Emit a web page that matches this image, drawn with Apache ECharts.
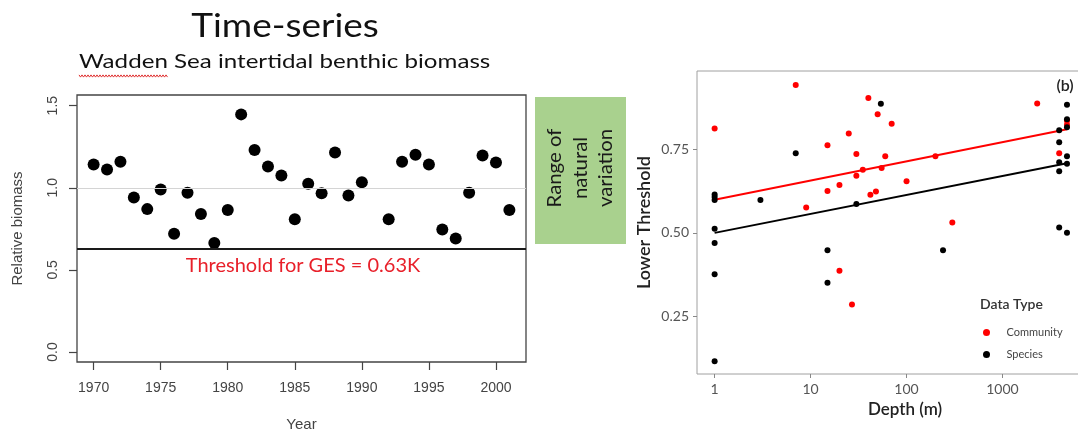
<!DOCTYPE html>
<html>
<head>
<meta charset="utf-8">
<script src="https://cdn.jsdelivr.net/npm/echarts@6/dist/echarts.min.js"></script>
<style>
html, body { margin: 0; padding: 0; background: #fff; }
#chart { width: 1078px; height: 433px; }
</style>
</head>
<body>
<div id="chart"></div>
<script>
// Wadden Sea intertidal benthic biomass, relative to K (1991 not sampled)
const years = [1970, 1971, 1972, 1973, 1974, 1975, 1976, 1977, 1978, 1979, 1980,
  1981, 1982, 1983, 1984, 1985, 1986, 1987, 1988, 1989, 1990,
  1992, 1993, 1994, 1995, 1996, 1997, 1998, 1999, 2000, 2001];
const biomass = [1.142, 1.112, 1.159, 0.941, 0.870, 0.990, 0.720, 0.970, 0.841, 0.663, 0.864,
  1.447, 1.230, 1.130, 1.075, 0.809, 1.024, 0.967, 1.215, 0.953, 1.033,
  0.809, 1.159, 1.201, 1.142, 0.746, 0.691, 0.970, 1.197, 1.154, 0.864];
const yearTicks = [1970, 1975, 1980, 1985, 1990, 1995, 2000];
const biomassTicks = [0, 0.5, 1, 1.5];
const gesThreshold = 0.63;
const referenceLevel = 1.0;

// Lower threshold against depth, by data type
const communityDepth = [1, 7, 9, 15, 15, 20, 20, 25, 27, 30, 30, 35, 40, 42, 48, 50, 55, 60, 70,
  100, 200, 300, 2300, 3900, 4700, 4700];
const communityThreshold = [0.812, 0.942, 0.576, 0.762, 0.625, 0.643, 0.387, 0.797, 0.286, 0.736, 0.671,
  0.689, 0.903, 0.614, 0.624, 0.855, 0.694, 0.729, 0.826, 0.654, 0.729, 0.531, 0.887, 0.738, 0.835, 0.823];
const speciesDepth = [1, 1, 1, 1, 1, 1, 1, 3, 7, 15, 15, 30, 54, 240,
  4700, 4700, 4700, 3900, 3900, 4700, 3900, 4700, 3900, 3900, 4700];
const speciesThreshold = [0.116, 0.376, 0.470, 0.512, 0.598, 0.607, 0.615, 0.598, 0.738, 0.448, 0.351,
  0.586, 0.886, 0.448, 0.883, 0.840, 0.816, 0.807, 0.771, 0.729, 0.711, 0.707, 0.684, 0.516, 0.500];
// fitted trend lines (end points)
const communityFitDepth = [1, 4700];
const communityFitValue = [0.599, 0.810];
const speciesFitDepth = [1, 4700];
const speciesFitValue = [0.500, 0.708];
const depthTicks = [1, 10, 100, 1000];
const thresholdTicks = [0.25, 0.5, 0.75];

const pairs = (xs, ys) => xs.map((x, i) => [x, ys[i]]);

const rFont = 'Liberation Sans';
const uiFont = 'Lato';

// red spell-check squiggle under the first word of the subtitle
const squiggle = [];
for (let x = 79, k = 0; x <= 168; x += 1.5, k++) squiggle.push([x, 76 + (k % 2 ? 1.1 : -1.1)]);

const chart = echarts.init(document.getElementById('chart'), null, { renderer: 'canvas' });
chart.setOption({
  animation: false,
  backgroundColor: '#fff',
  grid: [
    { left: 77, top: 95, width: 449, height: 267, outerBoundsMode: 'none', containLabel: false,
      show: true, borderColor: '#444', borderWidth: 1.3, backgroundColor: 'transparent' },
    { left: 697, top: 71, width: 388, height: 303, outerBoundsMode: 'none', containLabel: false,
      show: true, borderColor: '#a0a0a0', borderWidth: 1, backgroundColor: 'transparent' }
  ],
  xAxis: [
    {
      type: 'value', gridIndex: 0, min: 1968.76, max: 2002.24,
      axisLine: { show: false, onZero: false },
      splitLine: { show: false },
      axisTick: { show: true, customValues: yearTicks, length: 8, lineStyle: { color: '#444', width: 1.2 } },
      axisLabel: { customValues: yearTicks, margin: 19, fontFamily: rFont, fontSize: 14, color: '#444',
        formatter: v => String(v) },
      name: 'Year', nameLocation: 'middle', nameGap: 55,
      nameTextStyle: { fontFamily: rFont, fontSize: 15, color: '#444' }
    },
    {
      type: 'log', logBase: 10, gridIndex: 1, min: 0.655, max: 7244,
      axisLine: { show: false, onZero: false },
      splitLine: { show: false },
      axisTick: { show: true, customValues: depthTicks, length: 4, lineStyle: { color: '#888' } },
      axisLabel: { customValues: depthTicks, margin: 8, fontFamily: uiFont, fontSize: 14, color: '#555',
        formatter: v => String(Math.round(v)) }
    }
  ],
  yAxis: [
    {
      type: 'value', gridIndex: 0, min: -0.061, max: 1.565,
      axisLine: { show: false, onZero: false },
      splitLine: { show: false },
      axisTick: { show: true, customValues: biomassTicks, length: 8, lineStyle: { color: '#444', width: 1.2 } },
      axisLabel: { customValues: biomassTicks, rotate: 90, margin: 17, fontFamily: rFont, fontSize: 14, color: '#444',
        formatter: v => v.toFixed(1) },
      name: 'Relative biomass', nameLocation: 'middle', nameGap: 52,
      nameTextStyle: { fontFamily: rFont, fontSize: 15, color: '#444' }
    },
    {
      type: 'value', gridIndex: 1, min: 0.078, max: 0.984,
      axisLine: { show: false, onZero: false },
      splitLine: { show: false },
      axisTick: { show: true, customValues: thresholdTicks, length: 4, lineStyle: { color: '#888' } },
      axisLabel: { customValues: thresholdTicks, margin: 8, fontFamily: uiFont, fontSize: 14, color: '#555',
        formatter: v => v.toFixed(2) },
      name: 'Lower Threshold', nameLocation: 'middle', nameGap: 44,
      nameTextStyle: { fontFamily: uiFont, fontSize: 18, color: '#222', fontWeight: 600 }
    }
  ],
  legend: {
    data: ['Community', 'Species'],
    orient: 'vertical', left: 978, top: 322,
    icon: 'circle', itemWidth: 30, itemHeight: 7, itemGap: 11,
    selectedMode: false,
    textStyle: { fontFamily: uiFont, fontSize: 11, color: '#444' }
  },
  series: [
    {
      name: 'Reference levels', type: 'line', xAxisIndex: 0, yAxisIndex: 0, data: [], z: 1,
      markLine: {
        silent: true, symbol: 'none', label: { show: false }, animation: false,
        data: [
          { yAxis: referenceLevel, lineStyle: { color: '#d4d4d4', width: 1, type: 'solid' } },
          { yAxis: gesThreshold, lineStyle: { color: '#1a1a1a', width: 2, type: 'solid' } }
        ]
      }
    },
    {
      name: 'Relative biomass', type: 'scatter', xAxisIndex: 0, yAxisIndex: 0, z: 3,
      symbolSize: 12, itemStyle: { color: '#000', opacity: 1 },
      data: pairs(years, biomass)
    },
    {
      name: 'Community fit', type: 'line', xAxisIndex: 1, yAxisIndex: 1, z: 2,
      showSymbol: false, lineStyle: { color: '#ff0000', width: 2 },
      data: pairs(communityFitDepth, communityFitValue)
    },
    {
      name: 'Species fit', type: 'line', xAxisIndex: 1, yAxisIndex: 1, z: 2,
      showSymbol: false, lineStyle: { color: '#000', width: 2 },
      data: pairs(speciesFitDepth, speciesFitValue)
    },
    {
      name: 'Community', type: 'scatter', xAxisIndex: 1, yAxisIndex: 1, z: 3,
      symbolSize: 6, itemStyle: { color: '#ff0000', opacity: 1 },
      data: pairs(communityDepth, communityThreshold)
    },
    {
      name: 'Species', type: 'scatter', xAxisIndex: 1, yAxisIndex: 1, z: 4,
      symbolSize: 6, itemStyle: { color: '#000', opacity: 1 },
      data: pairs(speciesDepth, speciesThreshold)
    }
  ],
  graphic: [
    { type: 'text', x: 285, y: 26, scaleX: 1.12, style: { text: 'Time-series', fontFamily: uiFont, fontSize: 33, fill: '#111', align: 'center', verticalAlign: 'middle' } },
    { type: 'text', x: 79, y: 62, scaleX: 1.27, style: { text: 'Wadden Sea intertidal benthic biomass', fontFamily: uiFont, fontSize: 19, fill: '#111', align: 'left', verticalAlign: 'middle' } },
    { type: 'polyline', shape: { points: squiggle }, style: { stroke: '#e03030', lineWidth: 1, fill: null } },
    { type: 'text', x: 303, y: 266, z: 10, style: { text: 'Threshold for GES = 0.63K', fontFamily: uiFont, fontSize: 20, fill: '#e8202a', align: 'center', verticalAlign: 'middle' } },
    { type: 'rect', shape: { x: 535, y: 97, width: 91, height: 147 }, style: { fill: '#a9d18e' } },
    { type: 'text', x: 581, y: 168, rotation: Math.PI / 2, scaleX: 1.1,
      style: { text: 'Range of\nnatural\nvariation', fontFamily: uiFont, fontSize: 18.5, lineHeight: 25.5, fill: '#1a1a1a', align: 'center', verticalAlign: 'middle' } },
    { type: 'text', x: 1065, y: 86, style: { text: '(b)', fontFamily: uiFont, fontSize: 16, fill: '#222', fontWeight: 600, align: 'center', verticalAlign: 'middle' } },
    { type: 'text', x: 905, y: 410, style: { text: 'Depth (m)', fontFamily: uiFont, fontSize: 17, fill: '#222', fontWeight: 600, align: 'center', verticalAlign: 'middle' } },
    { type: 'text', x: 980, y: 304, style: { text: 'Data Type', fontFamily: uiFont, fontSize: 14, fill: '#333', fontWeight: 600, align: 'left', verticalAlign: 'middle' } }
  ]
});
</script>
</body>
</html>
